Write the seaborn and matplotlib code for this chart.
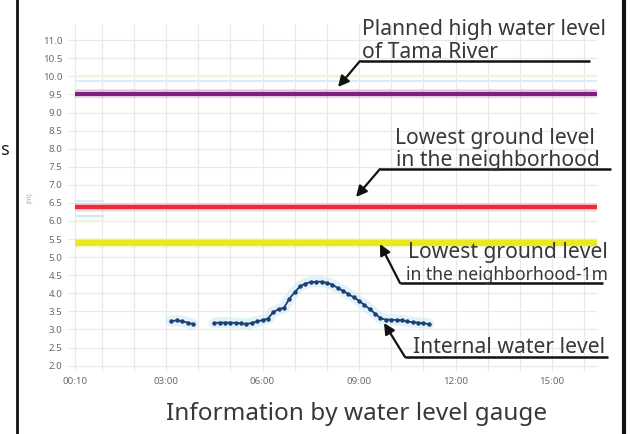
import numpy as np
import pandas as pd
import matplotlib.pyplot as plt
import seaborn as sns
from matplotlib.patches import FancyArrowPatch

# ---------------- data ----------------
# internal water level, two recorded stretches (10 min steps)
seg1_times = ["03:10", "03:20", "03:30", "03:40", "03:50"]
seg1_level = [3.23, 3.25, 3.22, 3.19, 3.15]

seg2_times = ["04:30", "04:40", "04:50", "05:00", "05:10", "05:20", "05:30", "05:40",
              "05:50", "06:00", "06:10", "06:20", "06:30", "06:40", "06:50", "07:00",
              "07:10", "07:20", "07:30", "07:40", "07:50", "08:00", "08:10", "08:20",
              "08:30", "08:40", "08:50", "09:00", "09:10", "09:20", "09:30", "09:40",
              "09:50", "10:00", "10:10", "10:20", "10:30", "10:40", "10:50", "11:00",
              "11:10"]
seg2_level = [3.18, 3.19, 3.19, 3.19, 3.18, 3.17, 3.15, 3.18,
              3.22, 3.26, 3.30, 3.48, 3.56, 3.60, 3.85, 4.03,
              4.19, 4.27, 4.31, 4.32, 4.32, 4.29, 4.24, 4.15,
              4.07, 3.98, 3.89, 3.79, 3.68, 3.56, 3.44, 3.31,
              3.27, 3.27, 3.26, 3.25, 3.22, 3.20, 3.19, 3.17,
              3.15]

# reference levels (m)
ref_names = ["Planned high water level", "Lowest ground level", "Lowest ground level - 1m"]
ref_values = [9.5, 6.4, 5.4]
ref_colors = ["#7d1f7e", "#ec2a3c", "#e9e922"]
ref_widths = [3.0, 3.2, 4.5]
ref_start = "00:10"
ref_end = "16:25"

# faint background series seen near the reference lines
faint_values = [10.0, 9.88, 9.62, 6.55, 6.15, 6.0]
faint_colors = ["#eef5d8", "#dcecf5", "#f7dff0", "#d8f0f5", "#cfeaf2", "#eef5d8"]

x_ticks = ["00:10", "03:00", "06:00", "09:00", "12:00", "15:00"]
y_ticks = [2.0, 2.5, 3.0, 3.5, 4.0, 4.5, 5.0, 5.5, 6.0, 6.5, 7.0, 7.5, 8.0, 8.5,
           9.0, 9.5, 10.0, 10.5, 11.0]


def hours(t):
    h, m = t.split(":")
    return int(h) + int(m) / 60


df = pd.concat([
    pd.DataFrame({"time": [hours(t) for t in seg1_times], "level": seg1_level, "segment": 1}),
    pd.DataFrame({"time": [hours(t) for t in seg2_times], "level": seg2_level, "segment": 2}),
])

# ---------------- figure ----------------
sns.set_style("white")
plt.rcParams['font.family'] = ['Noto Sans', 'DejaVu Sans']

W, H = 637, 434
fig = plt.figure(figsize=(W / 100, H / 100), dpi=100)
ax = fig.add_axes([68 / W, 1 - 371 / H, (597 - 68) / W, (371 - 24) / H])

# grid
for v in np.arange(2.0, 11.5, 0.5):
    ax.axhline(v, color="#e9e9e9", lw=0.9, zorder=0)
for v in [hours(ref_start)] + list(range(1, 17)):
    ax.axvline(v, color="#e9e9e9", lw=0.9, zorder=0)

t0, t1 = hours(ref_start), hours(ref_end)
for v, c in zip(faint_values, faint_colors):
    ax.hlines(v, t0, t1 if v > 7 else t0 + 0.9, color=c, lw=1.6, zorder=1)
for v, c, w in zip(ref_values, ref_colors, ref_widths):
    ax.hlines(v, t0, t1, color=c, lw=w + 3, alpha=0.15, zorder=2)
    ax.hlines(v, t0, t1, color=c, lw=w, zorder=3)

# internal water level: pale halo + dotted navy line
sns.lineplot(data=df, x="time", y="level", units="segment", estimator=None,
             color="#cdecf5", lw=8, alpha=0.6, ax=ax, zorder=4)
sns.lineplot(data=df, x="time", y="level", units="segment", estimator=None,
             color="#1d3f74", lw=1.3, marker="o", markersize=3.2,
             markeredgewidth=0, ax=ax, zorder=5)

ax.set_xlim(-0.05, 16.4)
ax.set_ylim(1.85, 11.45)
ax.set_xticks([hours(t) for t in x_ticks])
ax.set_xticklabels(x_ticks)
ax.set_yticks(y_ticks)
ax.set_yticklabels([f"{v:.1f}" for v in y_ticks])
ax.tick_params(axis="both", length=0, labelsize=7, labelcolor="#6a6a6a", pad=4)
ax.set_xlabel("")
ax.set_ylabel("(m)", fontsize=5, color="#aaaaaa", labelpad=7)
for s in ax.spines.values():
    s.set_visible(False)

# ---------------- overlay in pixel coordinates ----------------
ov = fig.add_axes([0, 0, 1, 1], facecolor="none")
ov.set_xlim(0, W)
ov.set_ylim(H, 0)
ov.axis("off")

ov.plot([17, 17], [0, H], color="#111111", lw=2)
ov.plot([624, 624], [0, H], color="#111111", lw=3)
ov.text(1, 150, "s", fontsize=13, color="#222222", va="center")

txt = "#383838"
fs = 15.2
# (lines of text with x and baseline y), underline x0, x1, y, arrow tip
labels = [
    ([("Planned high water level", 362, 35), ("of Tama River", 362, 58)], 360, 590, 61, (338, 87)),
    ([("Lowest ground level", 395, 144), ("in the neighborhood", 396, 166)], 380, 611, 169, (356, 197)),
    ([("Lowest ground level", 408, 258)], 400, 603, 283, (380, 244)),
    ([("Internal water level", 413, 353)], 405, 608, 357, (384, 323)),
]
for lines, ux0, ux1, uy, tip in labels:
    for s, tx, ty in lines:
        ov.text(tx, ty, s, fontsize=fs, color=txt, ha="left", va="baseline")
    ov.plot([ux0, ux1], [uy, uy], color="#111111", lw=1.8, solid_capstyle="butt")
    ov.add_patch(FancyArrowPatch((ux0, uy), tip, arrowstyle="-|>", mutation_scale=16,
                                 lw=1.6, color="#111111", shrinkA=0, shrinkB=0))

# narrower second line of the third label
ov.text(406, 280, "in the neighborhood-1m", fontsize=12.6, color=txt, ha="left",
        va="baseline", family=["Liberation Sans Narrow", "Noto Sans"])

ov.text(357, 414, "Information by water level gauge", fontsize=17.5, color=txt,
        ha="center", va="center")

fig.savefig("out.png", dpi=100, facecolor="white")
